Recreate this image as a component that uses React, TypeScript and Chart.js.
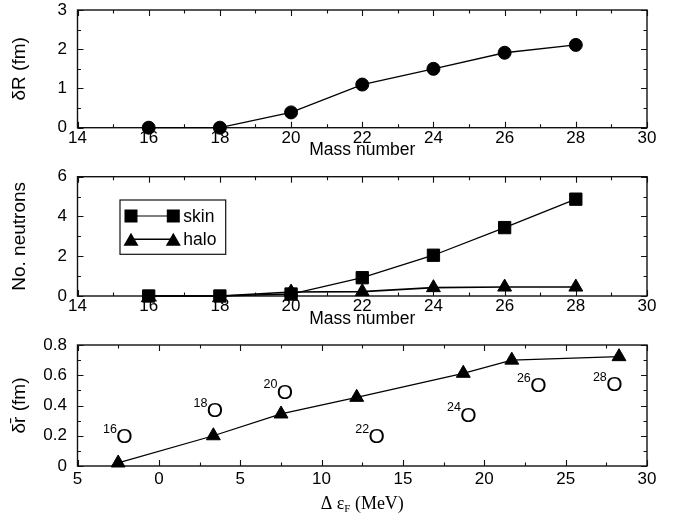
import React, { useEffect, useRef } from "react";
import { Chart, registerables } from "chart.js";

Chart.register(...registerables);

// ---------- data ----------
const massNumbers = [16, 18, 20, 22, 24, 26, 28];
const deltaR = [0, 0, 0.39, 1.1, 1.5, 1.91, 2.11];
const skinNeutrons = [0, 0, 0.1, 0.92, 2.05, 3.44, 4.87];
const haloNeutrons = [0, 0, 0.2, 0.22, 0.42, 0.45, 0.45];
const haloPointShown = [false, false, true, true, true, true, true];

const deltaEF = [-2.5, 3.35, 7.51, 12.16, 18.71, 21.69, 28.28];
const deltaRbar = [0.02, 0.2, 0.344, 0.454, 0.613, 0.7, 0.723];

const isoMass = ["16", "18", "20", "22", "24", "26", "28"];
const isoX = [-2.12, 3.45, 7.75, 13.39, 19.02, 23.32, 27.99];
const isoY = [0.194, 0.366, 0.491, 0.194, 0.337, 0.531, 0.54];

const xTicks3 = [-5, 0, 5, 10, 15, 20, 25, 30];
const xTickLabels3 = ["5", "0", "5", "10", "15", "20", "25", "30"];

const legendNames = ["skin", "halo"];

// ---------- styles ----------
const SANS = "'Liberation Sans', Arial, Helvetica, sans-serif";
const SERIF = "'Liberation Serif', 'Times New Roman', serif";
const INK = "#000";

function framePlugin(xMajor: number, xMinor: number, yMajor: number, yMinor: number) {
  return {
    id: "frame",
    beforeDatasetsDraw(chart: any) {
      const { ctx, chartArea } = chart;
      const { left, right, top, bottom } = chartArea;
      const xs = chart.scales.x;
      const ys = chart.scales.y;
      ctx.save();
      ctx.strokeStyle = "#111";
      ctx.lineWidth = 1.4;
      ctx.strokeRect(left, top, right - left, bottom - top);
      ctx.lineWidth = 1.1;
      ctx.beginPath();
      const isMajor = (v: number, base: number, step: number) => {
        const k = (v - base) / step;
        return Math.abs(k - Math.round(k)) < 1e-6;
      };
      for (let v = xs.min; v <= xs.max + 1e-9; v += xMinor) {
        const len = isMajor(v, xs.min, xMajor) ? 6 : 3.5;
        const px = Math.round(xs.getPixelForValue(v)) + 0.5;
        ctx.moveTo(px, bottom);
        ctx.lineTo(px, bottom - len);
        ctx.moveTo(px, top);
        ctx.lineTo(px, top + len);
      }
      for (let v = ys.min; v <= ys.max + 1e-9; v += yMinor) {
        const len = isMajor(v, ys.min, yMajor) ? 6 : 3.5;
        const py = Math.round(ys.getPixelForValue(v)) + 0.5;
        ctx.moveTo(left, py);
        ctx.lineTo(left + len, py);
        ctx.moveTo(right, py);
        ctx.lineTo(right - len, py);
      }
      ctx.stroke();
      ctx.restore();
    },
  };
}

function drawSquare(ctx: any, x: number, y: number, s: number) {
  ctx.fillRect(x - s / 2, y - s / 2, s, s);
}
function drawTriangle(ctx: any, x: number, y: number, w: number, h: number) {
  ctx.beginPath();
  ctx.moveTo(x, y - h / 2);
  ctx.lineTo(x + w / 2, y + h / 2);
  ctx.lineTo(x - w / 2, y + h / 2);
  ctx.closePath();
  ctx.fill();
}

const legendPlugin = {
  id: "boxLegend",
  afterDatasetsDraw(chart: any) {
    const { ctx, chartArea } = chart;
    const bx = chartArea.left + 42.5;
    const by = chartArea.top + 23.3;
    const bw = 105.7;
    const bh = 54.3;
    ctx.save();
    ctx.fillStyle = "#fff";
    ctx.fillRect(bx, by, bw, bh);
    ctx.strokeStyle = "#111";
    ctx.lineWidth = 1.2;
    ctx.strokeRect(bx, by, bw, bh);
    const rows = [by + 16, by + 39.3];
    const x1 = bx + 11;
    const x2 = bx + 53.3;
    ctx.fillStyle = INK;
    ctx.strokeStyle = INK;
    rows.forEach((ry, i) => {
      ctx.lineWidth = i === 0 ? 1.2 : 1.6;
      ctx.beginPath();
      ctx.moveTo(x1, ry);
      ctx.lineTo(x2, ry);
      ctx.stroke();
      if (i === 0) {
        drawSquare(ctx, x1, ry, 13);
        drawSquare(ctx, x2, ry, 13);
      } else {
        drawTriangle(ctx, x1, ry, 15, 13);
        drawTriangle(ctx, x2, ry, 15, 13);
      }
      ctx.font = `17.5px ${SANS}`;
      ctx.textAlign = "left";
      ctx.textBaseline = "middle";
      ctx.fillText(legendNames[i], bx + 63.3, ry + 1);
    });
    ctx.restore();
  },
};

const isoPlugin = {
  id: "isoLabels",
  afterDatasetsDraw(chart: any) {
    const { ctx } = chart;
    const xs = chart.scales.x;
    const ys = chart.scales.y;
    ctx.save();
    ctx.fillStyle = INK;
    ctx.textBaseline = "middle";
    isoMass.forEach((m, i) => {
      const px = xs.getPixelForValue(isoX[i]);
      const py = ys.getPixelForValue(isoY[i]);
      ctx.font = `21px ${SANS}`;
      ctx.textAlign = "center";
      ctx.fillText("O", px, py + 1);
      ctx.font = `12.5px ${SANS}`;
      ctx.textAlign = "right";
      ctx.fillText(m, px - 7.5, py - 7);
    });
    ctx.restore();
  },
};

const xTitle3Plugin = {
  id: "xTitle3",
  afterDraw(chart: any) {
    const { ctx, chartArea } = chart;
    const cx = (chartArea.left + chartArea.right) / 2;
    const cy = 174;
    const big = `18px ${SERIF}`;
    const small = `11px ${SERIF}`;
    const p1 = "\u0394 \u03b5";
    const p2 = "F";
    const p3 = " (MeV)";
    ctx.save();
    ctx.fillStyle = INK;
    ctx.textBaseline = "middle";
    ctx.textAlign = "left";
    ctx.font = big;
    const w1 = ctx.measureText(p1).width;
    const w3 = ctx.measureText(p3).width;
    ctx.font = small;
    const w2 = ctx.measureText(p2).width;
    let x = cx - (w1 + w2 + w3) / 2;
    ctx.font = big;
    ctx.fillText(p1, x, cy);
    x += w1;
    ctx.font = small;
    ctx.fillText(p2, x, cy + 5);
    x += w2;
    ctx.font = big;
    ctx.fillText(p3, x, cy);
    ctx.restore();
  },
};

type PanelCfg = {
  padTop: number;
  xAxisHeight: number;
  xMin: number;
  xMax: number;
  xStep: number;
  yMin: number;
  yMax: number;
  yStep: number;
  xTickPad: number;
  xTitle: string;
  xTitlePadBottom: number;
  yTitle: string;
  xTickCallback?: (v: any) => string;
};

function makeOptions(c: PanelCfg): any {
  return {
    responsive: false,
    maintainAspectRatio: false,
    animation: false,
    devicePixelRatio: 1,
    layout: { padding: { top: c.padTop, right: 34, left: 0, bottom: 0 } },
    plugins: { legend: { display: false }, tooltip: { enabled: false } },
    scales: {
      x: {
        type: "linear",
        min: c.xMin,
        max: c.xMax,
        afterFit(s: any) {
          s.height = c.xAxisHeight;
          s.paddingLeft = 0;
          s.paddingRight = 0;
        },
        grid: { display: false, drawTicks: false },
        border: { display: false },
        ticks: {
          stepSize: c.xStep,
          autoSkip: false,
          maxRotation: 0,
          padding: c.xTickPad,
          color: INK,
          font: { family: SANS, size: 17 },
          callback: c.xTickCallback,
        },
        title: {
          display: c.xTitle !== "",
          text: c.xTitle,
          color: INK,
          font: { family: SANS, size: 17.5 },
          padding: { top: 0, bottom: c.xTitlePadBottom },
        },
      },
      y: {
        type: "linear",
        min: c.yMin,
        max: c.yMax,
        afterFit(s: any) {
          s.width = 77.5;
          s.paddingTop = 0;
          s.paddingBottom = 0;
        },
        grid: { display: false, drawTicks: false },
        border: { display: false },
        ticks: {
          stepSize: c.yStep,
          autoSkip: false,
          padding: 10.5,
          color: INK,
          font: { family: SANS, size: 17 },
        },
        title: {
          display: true,
          text: c.yTitle,
          color: INK,
          font: { family: SANS, size: 19 },
          padding: { top: 8.5, bottom: 0 },
        },
      },
    },
  };
}

const lineStyle = {
  showLine: true,
  borderColor: INK,
  borderWidth: 1.3,
  pointBackgroundColor: INK,
  pointBorderColor: INK,
  pointBorderWidth: 1,
  clip: false,
  tension: 0,
};

export default function App() {
  const c1 = useRef<HTMLCanvasElement>(null);
  const c2 = useRef<HTMLCanvasElement>(null);
  const c3 = useRef<HTMLCanvasElement>(null);

  useEffect(() => {
    const charts: Chart[] = [];

    charts.push(
      new Chart(c1.current as HTMLCanvasElement, {
        type: "scatter",
        data: {
          datasets: [
            {
              ...lineStyle,
              data: massNumbers.map((m, i) => ({ x: m, y: deltaR[i] })),
              pointStyle: "circle",
              pointRadius: 6.5,
            } as any,
          ],
        },
        options: makeOptions({
          padTop: 10,
          xAxisHeight: 34.3,
          xMin: 14,
          xMax: 30,
          xStep: 2,
          yMin: 0,
          yMax: 3,
          yStep: 1,
          xTickPad: 0.5,
          xTitle: "Mass number",
          xTitlePadBottom: 1,
          yTitle: "\u03b4R (fm)",
        }),
        plugins: [framePlugin(2, 1, 1, 0.5)],
      })
    );

    charts.push(
      new Chart(c2.current as HTMLCanvasElement, {
        type: "scatter",
        data: {
          datasets: [
            {
              ...lineStyle,
              label: legendNames[0],
              data: massNumbers.map((m, i) => ({ x: m, y: skinNeutrons[i] })),
              pointStyle: "rect",
              pointRadius: 8.7,
            } as any,
            {
              ...lineStyle,
              label: legendNames[1],
              borderWidth: 1.6,
              data: massNumbers.map((m, i) => ({ x: m, y: haloNeutrons[i] })),
              pointStyle: "triangle",
              pointRadius: haloPointShown.map((s) => (s ? 8 : 0)),
            } as any,
          ],
        },
        options: makeOptions({
          padTop: 14.7,
          xAxisHeight: 34,
          xMin: 14,
          xMax: 30,
          xStep: 2,
          yMin: 0,
          yMax: 6,
          yStep: 2,
          xTickPad: 0.5,
          xTitle: "Mass number",
          xTitlePadBottom: 0.5,
          yTitle: "No. neutrons",
        }),
        plugins: [framePlugin(2, 1, 2, 1), legendPlugin],
      })
    );

    charts.push(
      new Chart(c3.current as HTMLCanvasElement, {
        type: "scatter",
        data: {
          datasets: [
            {
              ...lineStyle,
              data: deltaEF.map((e, i) => ({ x: e, y: deltaRbar[i] })),
              pointStyle: "triangle",
              pointRadius: 8,
            } as any,
          ],
        },
        options: makeOptions({
          padTop: 15,
          xAxisHeight: 52,
          xMin: -5,
          xMax: 30,
          xStep: 5,
          yMin: 0,
          yMax: 0.8,
          yStep: 0.2,
          xTickPad: 3.5,
          xTitle: "",
          xTitlePadBottom: 0,
          yTitle: "\u03b4r\u0304 (fm)",
          xTickCallback: (v: any) => {
            const k = xTicks3.indexOf(Number(v));
            return k >= 0 ? xTickLabels3[k] : String(v);
          },
        }),
        plugins: [framePlugin(5, 2.5, 0.2, 0.1), isoPlugin, xTitle3Plugin],
      })
    );

    return () => charts.forEach((c) => c.destroy());
  }, []);

  const cv = (top: number, h: number): React.CSSProperties => ({
    position: "absolute",
    left: 0,
    top,
    width: 681,
    height: h,
  });

  return (
    <div style={{ position: "absolute", left: 0, top: 0, width: 681, height: 518, background: "#fff" }}>
      <canvas ref={c1} width={681} height={162} style={cv(0, 162)} />
      <canvas ref={c2} width={681} height={168} style={cv(162, 168)} />
      <canvas ref={c3} width={681} height={188} style={cv(330, 188)} />
    </div>
  );
}
